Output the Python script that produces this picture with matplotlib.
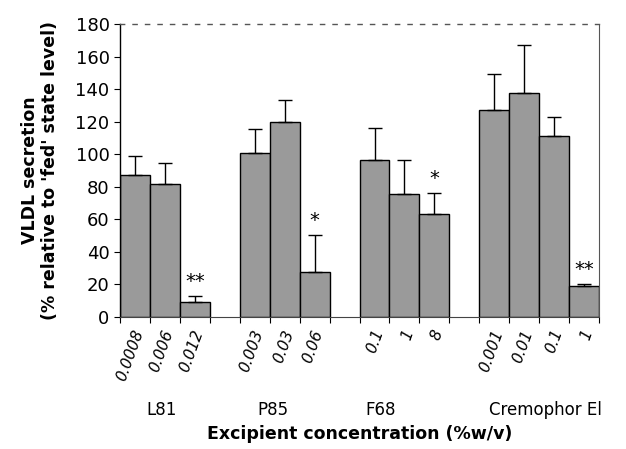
import matplotlib
matplotlib.use("Agg")
import matplotlib.pyplot as plt
import numpy as np

groups = ["L81", "P85", "F68", "Cremophor El"]
concs = [["0.0008", "0.006", "0.012"],
         ["0.003", "0.03", "0.06"],
         ["0.1", "1", "8"],
         ["0.001", "0.01", "0.1", "1"]]
means = [[87.5, 82, 9.5],
         [100.5, 119.5, 27.5],
         [96.5, 75.5, 63.5],
         [127, 137.5, 111.5, 19]]
err_up = [[11.5, 12.5, 3.5],
          [15, 14, 23],
          [19.5, 21, 12.5],
          [22, 29.5, 11.5, 1.5]]
stars = [["", "", "**"],
         ["", "", "*"],
         ["", "", "*"],
         ["", "", "", "**"]]
yticks = [0, 20, 40, 60, 80, 100, 120, 140, 160, 180]

fig = plt.figure(figsize=(6.26, 4.49), dpi=100)
ax = fig.add_axes([0.1917, 0.294, 0.957 - 0.1917, 0.9465 - 0.294])

pos = []
labels = []
vals = []
errs = []
stl = []
slot = 0
group_edges = []
for g in range(len(groups)):
    start = slot
    for i in range(len(concs[g])):
        pos.append(slot + 0.5)
        labels.append(concs[g][i])
        vals.append(means[g][i])
        errs.append(err_up[g][i])
        stl.append(stars[g][i])
        slot += 1
    group_edges.append((start, slot))
    slot += 1
total = slot - 1

pos = np.array(pos)
vals = np.array(vals)
errs = np.array(errs)

ax.bar(pos, vals, width=1.0, color="#9a9a9a", edgecolor="black", linewidth=1.0, zorder=2)
ax.errorbar(pos, vals, yerr=[np.zeros_like(errs), errs], fmt="none",
            ecolor="black", elinewidth=1.0, capsize=5, capthick=1.0, zorder=3)
for x, v, e, s in zip(pos, vals, errs, stl):
    if s:
        ax.text(x, v + e + 3, s, ha="center", va="bottom", fontsize=14)

ax.set_xlim(0, total)
ax.set_ylim(0, 180)
ax.set_yticks(yticks)
ax.tick_params(axis="y", labelsize=13, length=4, direction="out")

edges = []
for a, b in group_edges:
    edges.extend(range(a, b + 1))
ax.set_xticks(edges)
ax.set_xticklabels([])
ax.tick_params(axis="x", length=4, direction="out")

for x, lab in zip(pos, labels):
    ax.text(x + 0.15, -8, lab, rotation=70, ha="right", va="center",
            rotation_mode="anchor", fontsize=11, style="italic")

group_label_x = [1.4, 5.1, 8.7, 14.2]
for gx, g in zip(group_label_x, groups):
    ax.text(gx, -57, g, ha="center", va="center", fontsize=12)

ax.text(total / 2, -72, "Excipient concentration (%w/v)", ha="center", va="center",
        fontsize=12.5, fontweight="bold")

ax.set_ylabel("VLDL secretion\n(% relative to 'fed' state level)", fontsize=12.5,
              fontweight="bold", labelpad=12, linespacing=1.1)

ax.spines["left"].set_linewidth(1.0)
ax.spines["bottom"].set_linewidth(0.8)
ax.spines["bottom"].set_linestyle((0, (1, 1)))
ax.spines["bottom"].set_color("#444444")
ax.spines["top"].set_linestyle((0, (3, 6)))
ax.spines["top"].set_color("#555555")
ax.spines["top"].set_linewidth(1.0)
ax.spines["right"].set_linestyle((0, (1, 1)))
ax.spines["right"].set_color("#555555")
ax.spines["right"].set_linewidth(0.8)

fig.savefig("out.png", dpi=100)
